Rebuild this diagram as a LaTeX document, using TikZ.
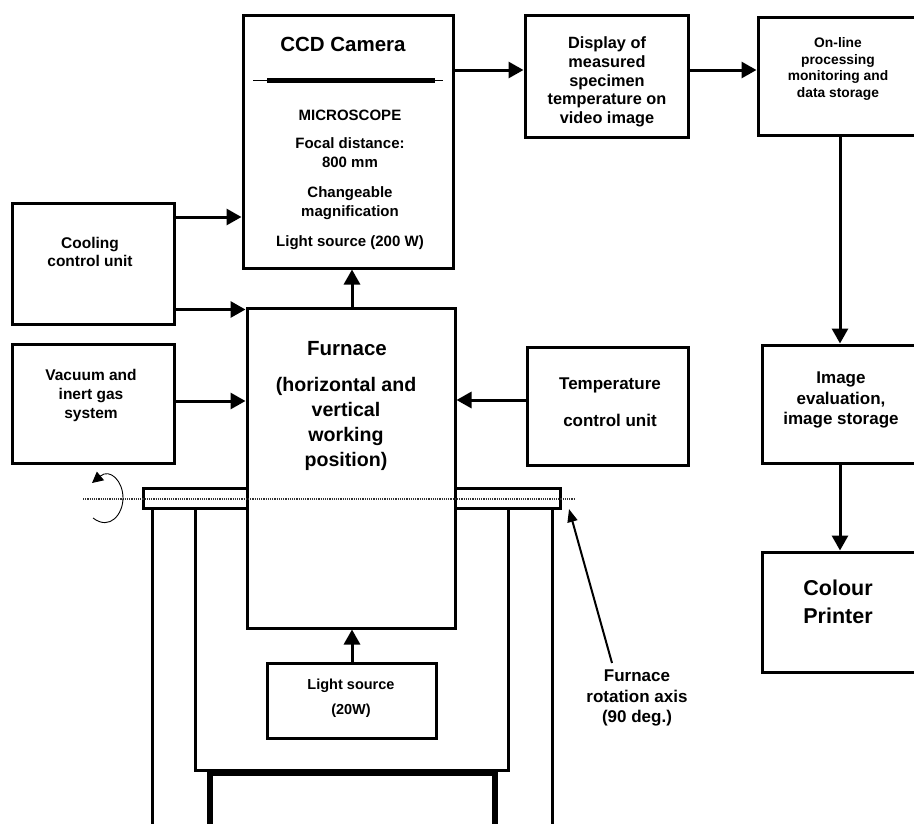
\documentclass[tikz,border=0pt]{standalone}
\usepackage{fontspec}
\setmainfont{Liberation Sans}
\usetikzlibrary{arrows.meta}
\newcommand\myfs[2]{\fontsize{#1}{#2}\selectfont\bfseries}
\tikzset{
  box/.style={draw, line width=3pt, inner sep=0pt, rectangle},
  arr/.style={line width=3pt, -{Triangle[length=15pt,width=16pt]}},
  thinarr/.style={line width=2pt, -{Triangle[length=13pt,width=10pt]}},
  frame/.style={line width=3pt},
  lbl/.style={inner sep=0pt, align=center},
}
\begin{document}
\begin{tikzpicture}[x=1pt,y=-1pt]
\useasboundingbox (0,0) rectangle (914,823);

% boxes
\node[box, minimum width=210pt, minimum height=253pt] (cam) at (348,141.5) {};
\node[box, minimum width=163pt, minimum height=122pt] (disp) at (606.5,76) {};
\node[box, minimum width=172pt, minimum height=118pt] (online) at (844,76) {};
\node[box, minimum width=168pt, minimum height=118pt] (imgev) at (846,404) {};
\node[box, minimum width=168pt, minimum height=120pt] (printer) at (846,612) {};
\node[box, minimum width=162pt, minimum height=121pt] (cool) at (93,263.5) {};
\node[box, minimum width=162pt, minimum height=119pt] (vac) at (93,403.5) {};
\node[box, minimum width=161pt, minimum height=118pt] (temp) at (607.5,406) {};
\node[box, minimum width=169pt, minimum height=75pt] (ls) at (351.5,700.5) {};

% stand / plates
\draw[frame] (143,488) rectangle (247,508);
\draw[frame] (455,488) rectangle (560,508);
\draw[frame] (152,508) -- (152,830);
\draw[frame] (552,508) -- (552,830);
\draw[frame] (195,508) -- (195,770) -- (508,770) -- (508,508);
\draw[line width=6pt] (210,830) -- (210,773) -- (495,773) -- (495,830);

% furnace (drawn over stand)
\node[box, fill=none, minimum width=208pt, minimum height=320pt] (furn) at (351,468) {};

% rotation axis (dotted)
\draw[densely dotted, line width=1.2pt, black!80] (83,499) -- (575,499);
% rotation symbol
\draw[line width=0.9pt, -{Triangle[length=11pt,width=11pt]}] (93,518) .. controls (110,531) and (123,514) .. (123,498) .. controls (123,481) and (110,468) .. (92,483);

% camera separator
\draw[line width=1pt] (253,80) -- (443,80);
\draw[line width=5pt] (267,80) -- (435,80);

% texts
\node[lbl, font=\myfs{20.5}{24}] (tccd) at (343,44) {CCD Camera};
\node[lbl, font=\myfs{15}{19}] (tmic) at (350,115) {MICROSCOPE};
\node[lbl, font=\myfs{15}{19}] (tfoc) at (350,153) {Focal distance:\\800 mm};
\node[lbl, font=\myfs{15}{19}] (tchg) at (350,203) {Changeable\\magnification};
\node[lbl, font=\myfs{15}{19}] (tlsc) at (350,243) {Light source (200 W)};

\node[lbl, font=\myfs{16.3}{18.6}] (tdisp) at (607,82) {Display of\\measured\\specimen\\temperature on\\video image};
\node[lbl, font=\myfs{13.8}{16.7}] (tonl) at (838,69) {On-line\\processing\\monitoring and\\data storage};
\node[lbl, font=\myfs{17}{20.5}] (timg) at (841,400) {Image\\evaluation,\\image storage};
\node[lbl, font=\myfs{21.5}{28}] (tprn) at (838,601.5) {Colour\\Printer};
\node[lbl, font=\myfs{15.5}{18}] (tcool) at (90,251.5) {Cooling\\control unit};
\node[lbl, font=\myfs{15.5}{19}] (tvac) at (91,395) {Vacuum and\\inert gas\\system};
\node[lbl, font=\myfs{20.5}{24}] (tfur) at (347,349) {Furnace};
\node[lbl, font=\myfs{19.6}{25}] (tfur2) at (346,424) {(horizontal and\\vertical\\working\\position)};
\node[lbl, font=\myfs{17}{20}] (ttemp1) at (610,385.5) {Temperature};
\node[lbl, font=\myfs{17}{20}] (ttemp2) at (610,420.5) {control unit};
\node[lbl, font=\myfs{14.5}{25}] (tls20) at (351,698) {Light source\\(20W)};
\node[lbl, font=\myfs{17}{20.5}] (taxis) at (637,698) {Furnace\\rotation axis\\(90 deg.)};

% connectors
\draw[arr] (cam.east |- 0,70) -- (disp.west |- 0,70);
\draw[arr] (disp.east |- 0,70) -- (online.west |- 0,70);
\draw[arr] (online.south -| 840,0) -- (imgev.north -| 840,0);
\draw[arr] (imgev.south -| 840,0) -- (printer.north -| 840,0);
\draw[arr] (cool.east |- 0,217) -- (cam.west |- 0,217);
\draw[arr] (cool.east |- 0,309.5) -- (furn.west |- 0,309.5);
\draw[arr] (vac.east |- 0,401) -- (furn.west |- 0,401);
\draw[arr] (temp.west |- 0,400) -- (furn.east |- 0,400);
\draw[arr] (furn.north -| 352,0) -- (cam.south -| 352,0);
\draw[arr] (ls.north -| 352,0) -- (furn.south -| 352,0);
\coordinate (axtip) at (569,509);
\coordinate (axtail) at (612,663);
\draw[thinarr] (axtail) -- (axtip);
\end{tikzpicture}
\end{document}
